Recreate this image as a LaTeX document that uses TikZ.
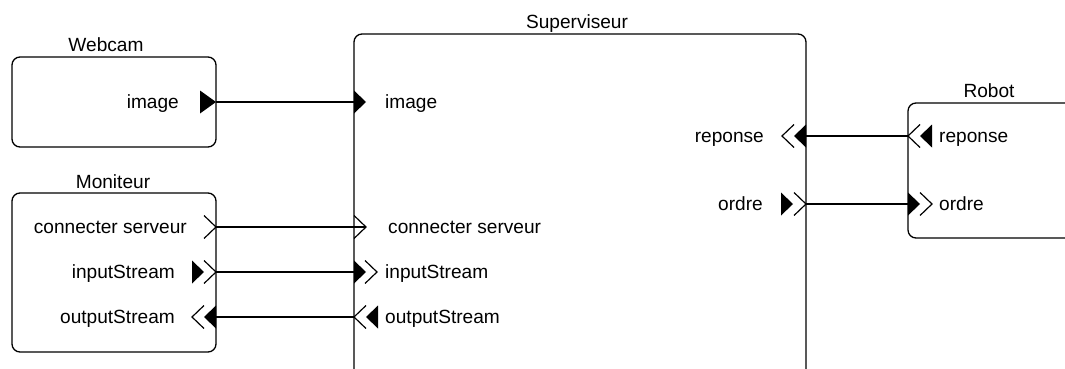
\documentclass[tikz,border=0pt]{standalone}
\usepackage{fontspec}
\setmainfont{Liberation Sans}
\begin{document}
\begin{tikzpicture}[x=1pt,y=-1pt,
  box/.style={draw, line width=1.3pt, rounded corners=8pt, inner sep=0pt},
  wire/.style={draw, line width=1.2pt},
  lbl/.style={inner sep=0pt, font=\fontsize{19.1}{22}\selectfont},
  lblR/.style={lbl, anchor=base east},
  lblL/.style={lbl, anchor=base west},
  ttl/.style={lbl, anchor=base},
  pfill/.pic={\fill (0,-11.5) -- (12,0) -- (0,11.5) -- cycle;},
  pchev/.pic={\draw[line width=1.2pt, line join=miter] (0,-11.5) -- (12,0) -- (0,11.5);}
]
\useasboundingbox (0,0) rectangle (1065,369);
\clip (0,0) rectangle (1065,369);

% boxes
\node[box, minimum width=204pt, minimum height=90pt] (webcam) at (114,102) {};
\node[box, minimum width=204pt, minimum height=159pt] (moniteur) at (114,272.5) {};
\node[box, minimum width=452pt, minimum height=386pt] (superviseur) at (580,227) {};
\node[box, minimum width=212pt, minimum height=135pt] (robot) at (1014,170.5) {};

% titles
\node[ttl] (t-webcam) at (106,52) {Webcam};
\node[ttl] (t-moniteur) at (113,188) {Moniteur};
\node[ttl] (t-superviseur) at (577,29) {Superviseur};
\node[ttl] (t-robot) at (989,97) {Robot};

% port labels
\node[lblR] (l-wc-image) at (179,108) {image};
\node[lblL] (l-sv-image) at (385,108) {image};
\node[lblR] (l-mo-conn) at (187,233) {connecter serveur};
\node[lblR] (l-mo-in) at (175,278) {inputStream};
\node[lblR] (l-mo-out) at (175,323) {outputStream};
\node[lblL] (l-sv-conn) at (388,233) {connecter serveur};
\node[lblL] (l-sv-in) at (385,278) {inputStream};
\node[lblL] (l-sv-out) at (385,323) {outputStream};
\node[lblR] (l-sv-rep) at (764,142) {reponse};
\node[lblR] (l-sv-ord) at (763,210) {ordre};
\node[lblL] (l-ro-rep) at (939,142) {reponse};
\node[lblL] (l-ro-ord) at (939,210) {ordre};

% port points
\coordinate (wc-image) at (216,102);
\coordinate (sv-image) at (354,102);
\coordinate (mo-conn) at (216,227);
\coordinate (sv-conn) at (366,227);
\coordinate (mo-in) at (216,272);
\coordinate (sv-in) at (354,272);
\coordinate (mo-out) at (216,317);
\coordinate (sv-out) at (354,317);
\coordinate (sv-rep) at (806,136);
\coordinate (ro-rep) at (908,136);
\coordinate (sv-ord) at (806,204);
\coordinate (ro-ord) at (908,204);

% port glyphs
\pic[xscale=1.333] at (200,102) {pfill};
\pic at (354,102) {pfill};
\pic at (204,227) {pchev};
\pic at (354,227) {pchev};
\pic at (192,272) {pfill};
\pic at (204,272) {pchev};
\pic at (354,272) {pfill};
\pic at (365,272) {pchev};
\pic[xscale=-1] at (204,317) {pchev};
\pic[xscale=-1] at (216,317) {pfill};
\pic[xscale=-1] at (366,317) {pchev};
\pic[xscale=-1] at (378,317) {pfill};
\pic[xscale=-1] at (794,136) {pchev};
\pic[xscale=-1] at (806,136) {pfill};
\pic at (781,204) {pfill};
\pic at (794,204) {pchev};
\pic[xscale=-1] at (920,136) {pchev};
\pic[xscale=-1] at (932,136) {pfill};
\pic at (908,204) {pfill};
\pic at (920,204) {pchev};

% connectors
\draw[wire] (wc-image) -- (sv-image);
\draw[wire] (mo-conn) -- (sv-conn);
\draw[wire] (mo-in) -- (sv-in);
\draw[wire] (sv-out) -- (mo-out);
\draw[wire] (ro-rep) -- (sv-rep);
\draw[wire] (sv-ord) -- (ro-ord);
\end{tikzpicture}
\end{document}
